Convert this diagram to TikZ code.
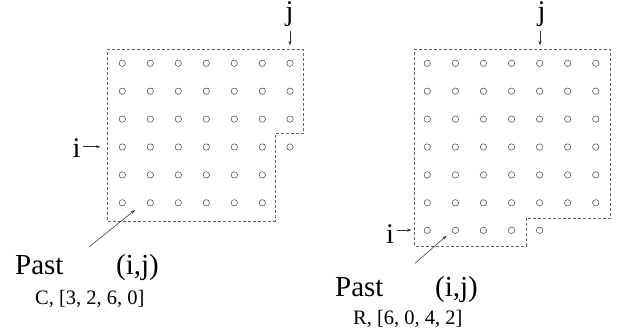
\documentclass[tikz,border=0pt]{standalone}
\usepackage{fontspec}
\setmainfont{Liberation Serif}
\usetikzlibrary{arrows.meta}
\begin{document}
\begin{tikzpicture}[x=1pt,y=-1pt,
  cell/.style={circle,draw=black!65,line width=0.6pt,minimum size=6.4pt,inner sep=0pt},
  region/.style={draw=black!60,line width=0.8pt,dash pattern=on 3pt off 2pt},
  pointer/.style={draw=black!80,line width=0.55pt,-{Stealth[length=4.5pt,width=3pt]}},
  idx/.style={inner sep=0pt,font=\fontsize{28.5}{30}\selectfont},
  big/.style={inner sep=0pt,anchor=base west,font=\fontsize{29}{32}\selectfont},
  small/.style={inner sep=0pt,anchor=base west,font=\fontsize{20.5}{24}\selectfont}]
\useasboundingbox (0,0) rectangle (621,328);

% ---------- left: column-wise past ----------
\draw[region] (107,49.3) -- (303.3,49.3) -- (303.3,133.3) -- (275.3,133.3)
  -- (275.3,221) -- (107,221) -- cycle;
\foreach \r in {0,...,5} {
  \foreach \c in {0,...,5}
    \node[cell] (L-\r-\c) at (122.3+28*\c, 63.3+27.9*\r) {};
}
\foreach \r in {0,...,3}
  \node[cell] (L-\r-6) at (290, 63.3+27.9*\r) {};

\node[idx,anchor=base] (Lj) at (289.5,20.8) {j};
\coordinate (Ljfrom) at (290,31.5);
\coordinate (Ljtip) at (290,45.5);
\draw[pointer] (Ljfrom) -- (Ljtip);
\node[idx,anchor=base west] (Li) at (72.5,158) {i};
\coordinate (Lifrom) at (83,146.7);
\coordinate (Litip) at (100.5,146.7);
\draw[pointer] (Lifrom) -- (Litip);

\node[big] (Lpast) at (15,275) {Past};
\node[big] (Lij) at (116,275) {(i,j)};
\node[small] (Lcode) at (35,305) {C, [3, 2, 6, 0]};
\coordinate (Lfrom) at (89.3,246.7);
\coordinate (Lto) at (135,210);
\draw[pointer] (Lfrom) -- (Lto);

% ---------- right: row-wise past ----------
\draw[region] (414.3,49.3) -- (610.7,49.3) -- (610.7,218.3) -- (526,218.3)
  -- (526,246) -- (414.3,246) -- cycle;
\foreach \r in {0,...,5} {
  \foreach \c in {0,...,6}
    \node[cell] (R-\r-\c) at (427.3+28.07*\c, 63.3+27.9*\r) {};
}
\foreach \c in {0,...,4}
  \node[cell] (R-6-\c) at (427.3+28.07*\c, 230.3) {};

\node[idx,anchor=base] (Rj) at (541.5,20.8) {j};
\coordinate (Rjfrom) at (540,31.5);
\coordinate (Rjtip) at (540,45.5);
\draw[pointer] (Rjfrom) -- (Rjtip);
\node[idx,anchor=base west] (Ri) at (386,243.3) {i};
\coordinate (Rifrom) at (397,230);
\coordinate (Ritip) at (411.5,230);
\draw[pointer] (Rifrom) -- (Ritip);

\node[big] (Rpast) at (335,296.7) {Past};
\node[big] (Rij) at (435,296.7) {(i,j)};
\node[small] (Rcode) at (353,324.3) {R, [6, 0, 4, 2]};
\coordinate (Rfrom) at (415,263.3);
\coordinate (Rto) at (446.7,235.7);
\draw[pointer] (Rfrom) -- (Rto);
\end{tikzpicture}
\end{document}
